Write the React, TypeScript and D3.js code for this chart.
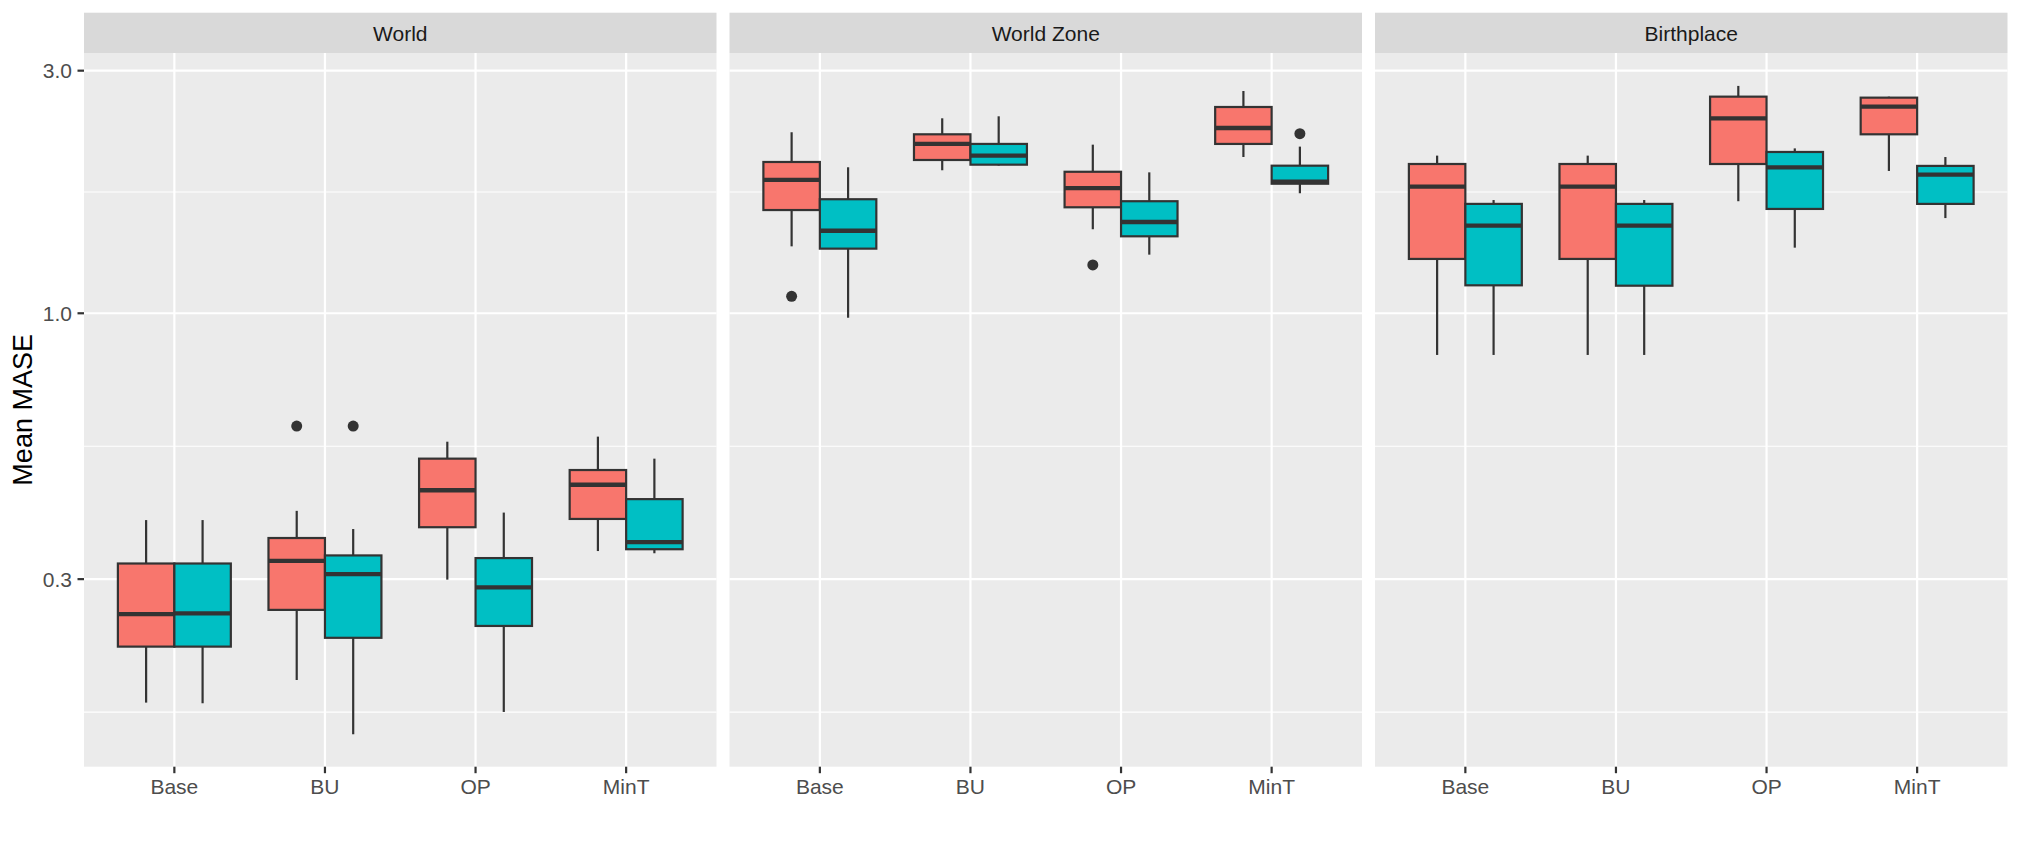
import * as d3 from 'd3';
import React, { useRef, useEffect } from 'react';

const facets = ['World', 'World Zone', 'Birthplace'];
const methods = ['Base', 'BU', 'OP', 'MinT'];
const yTicks = [0.3, 1.0, 3.0];
const yTickLabels = ['0.3', '1.0', '3.0'];
const yMinor = [0.1643, 0.5477, 1.732];

// [lower whisker, q1, median, q3, upper whisker], one row per method
const worldA = [
  [0.1715, 0.221, 0.256, 0.322, 0.392],
  [0.19, 0.261, 0.326, 0.3614, 0.4087],
  [0.2993, 0.3795, 0.4487, 0.5177, 0.559],
  [0.3407, 0.394, 0.46, 0.4917, 0.572],
];
const worldB = [
  [0.171, 0.221, 0.257, 0.322, 0.392],
  [0.1486, 0.23, 0.307, 0.334, 0.3764],
  [0.1644, 0.2427, 0.289, 0.33, 0.4055],
  [0.3373, 0.3435, 0.3546, 0.431, 0.5177],
];
const zoneA = [
  [1.354, 1.596, 1.829, 1.984, 2.27],
  [1.911, 2.002, 2.153, 2.249, 2.418],
  [1.463, 1.616, 1.763, 1.898, 2.146],
  [2.029, 2.153, 2.314, 2.545, 2.736],
];
const zoneB = [
  [0.98, 1.34, 1.453, 1.676, 1.937],
  [1.952, 1.96, 2.042, 2.153, 2.44],
  [1.304, 1.417, 1.512, 1.661, 1.893],
  [1.722, 1.798, 1.815, 1.951, 2.127],
];
const birthA = [
  [0.828, 1.279, 1.774, 1.966, 2.042],
  [0.828, 1.279, 1.774, 1.966, 2.042],
  [1.661, 1.966, 2.418, 2.667, 2.8],
  [1.905, 2.249, 2.549, 2.655, 2.667],
];
const birthB = [
  [0.828, 1.135, 1.487, 1.641, 1.67],
  [0.828, 1.133, 1.487, 1.641, 1.67],
  [1.346, 1.604, 1.937, 2.076, 2.11],
  [1.539, 1.641, 1.873, 1.949, 2.029],
];
// [facet, method, group, value]
const outliers = [
  [0, 1, 0, 0.6],
  [0, 1, 1, 0.6],
  [1, 0, 0, 1.08],
  [1, 2, 0, 1.245],
  [1, 3, 1, 2.255],
];

const seriesByFacet = [
  [worldA, worldB],
  [zoneA, zoneB],
  [birthA, birthB],
];
const fills = ['#F8766D', '#00BFC4'];

export default function App() {
  const svgRef = useRef(null);
  const width = 2020;
  const height = 842;

  useEffect(() => {
    if (!svgRef.current) return;
    const svg = d3.select(svgRef.current);
    svg.selectAll('*').remove();

    const panelLefts = [84, 729.5, 1375];
    const panelW = 632.5;
    const top = 53, bottom = 766.7;
    const stripTop = 12.7;
    const font = "'Liberation Sans', Arial, Helvetica, sans-serif";

    const y = d3.scaleLog().domain([0.1283, 3.25]).range([bottom, top]);

    facets.forEach((facet, fi) => {
      const left = panelLefts[fi];
      const x = d3.scalePoint().domain(methods).range([left, left + panelW]).padding(0.6);
      const step = x.step();
      const g = svg.append('g');

      // strip
      g.append('rect').attr('x', left).attr('y', stripTop).attr('width', panelW)
        .attr('height', top - stripTop).attr('fill', '#D9D9D9');
      g.append('text').attr('x', left + panelW / 2).attr('y', 40.5)
        .attr('text-anchor', 'middle').attr('font-family', font).attr('font-size', 21)
        .attr('fill', '#1A1A1A').text(facet);

      // panel background
      g.append('rect').attr('x', left).attr('y', top).attr('width', panelW)
        .attr('height', bottom - top).attr('fill', '#EBEBEB');

      g.selectAll('.minor').data(yMinor).enter().append('line')
        .attr('x1', left).attr('x2', left + panelW)
        .attr('y1', (d) => y(d)).attr('y2', (d) => y(d))
        .attr('stroke', '#FFFFFF').attr('stroke-width', 1.1);
      g.selectAll('.major').data(yTicks).enter().append('line')
        .attr('x1', left).attr('x2', left + panelW)
        .attr('y1', (d) => y(d)).attr('y2', (d) => y(d))
        .attr('stroke', '#FFFFFF').attr('stroke-width', 2.2);
      g.selectAll('.vgrid').data(methods).enter().append('line')
        .attr('x1', (d) => x(d)).attr('x2', (d) => x(d))
        .attr('y1', top).attr('y2', bottom)
        .attr('stroke', '#FFFFFF').attr('stroke-width', 2.2);

      // boxes
      const boxW = step * 0.375;
      seriesByFacet[fi].forEach((series, si) => {
        const offset = (si === 0 ? -1 : 1) * step * 0.1875;
        series.forEach((s, mi) => {
          const cx = x(methods[mi]) + offset;
          const [lo, q1, med, q3, hi] = s;
          g.append('line').attr('x1', cx).attr('x2', cx).attr('y1', y(hi)).attr('y2', y(q3))
            .attr('stroke', '#333333').attr('stroke-width', 2.2);
          g.append('line').attr('x1', cx).attr('x2', cx).attr('y1', y(q1)).attr('y2', y(lo))
            .attr('stroke', '#333333').attr('stroke-width', 2.2);
          g.append('rect').attr('x', cx - boxW / 2).attr('y', y(q3))
            .attr('width', boxW).attr('height', y(q1) - y(q3))
            .attr('fill', fills[si]).attr('stroke', '#333333').attr('stroke-width', 2.2);
          g.append('line').attr('x1', cx - boxW / 2).attr('x2', cx + boxW / 2)
            .attr('y1', y(med)).attr('y2', y(med))
            .attr('stroke', '#333333').attr('stroke-width', 4.3);
        });
      });

      outliers.filter((o) => o[0] === fi).forEach((o) => {
        const cx = x(methods[o[1]]) + (o[2] === 0 ? -1 : 1) * step * 0.1875;
        g.append('circle').attr('cx', cx).attr('cy', y(o[3])).attr('r', 5.5)
          .attr('fill', '#333333');
      });

      // x axis ticks + labels
      g.selectAll('.xtick').data(methods).enter().append('line')
        .attr('x1', (d) => x(d)).attr('x2', (d) => x(d))
        .attr('y1', bottom).attr('y2', bottom + 6.5)
        .attr('stroke', '#333333').attr('stroke-width', 2.2);
      g.selectAll('.xlab').data(methods).enter().append('text')
        .attr('x', (d) => x(d)).attr('y', 794.3)
        .attr('text-anchor', 'middle').attr('font-family', font).attr('font-size', 21)
        .attr('fill', '#4D4D4D').text((d) => d);
    });

    // y axis
    const ya = svg.append('g');
    ya.selectAll('line').data(yTicks).enter().append('line')
      .attr('x1', 77.5).attr('x2', 84)
      .attr('y1', (d) => y(d)).attr('y2', (d) => y(d))
      .attr('stroke', '#333333').attr('stroke-width', 2.2);
    ya.selectAll('text').data(yTicks).enter().append('text')
      .attr('x', 72).attr('y', (d) => y(d)).attr('dy', '0.36em')
      .attr('text-anchor', 'end').attr('font-family', font).attr('font-size', 21)
      .attr('fill', '#4D4D4D').text((d, i) => yTickLabels[i]);

    svg.append('text')
      .attr('transform', `translate(32, ${(top + bottom) / 2}) rotate(-90)`)
      .attr('text-anchor', 'middle').attr('font-family', font).attr('font-size', 27)
      .attr('fill', '#000000').text('Mean MASE');
  }, []);

  return (
    <div style={{ position: 'absolute', left: 0, top: 0 }}>
      <svg ref={svgRef} width={width} height={height} style={{ display: 'block', background: '#FFFFFF' }} />
    </div>
  );
}
